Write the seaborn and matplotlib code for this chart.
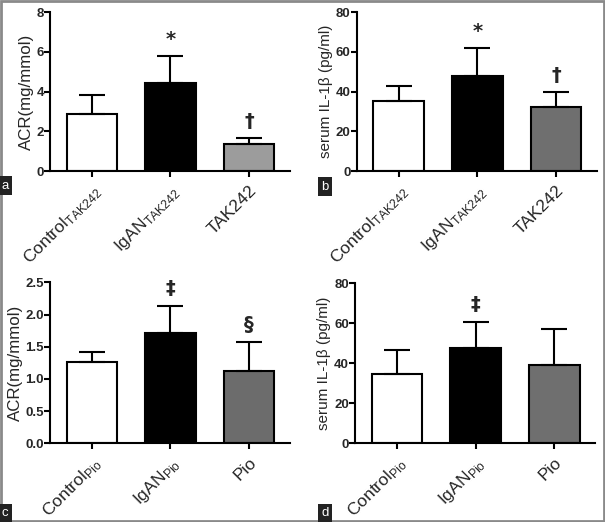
import pandas as pd
import matplotlib.pyplot as plt
import seaborn as sns
from matplotlib.patches import Rectangle

# values
grupos_tak = ['Control$_{\\mathregular{TAK242}}$', 'IgAN$_{\\mathregular{TAK242}}$', 'TAK242']
grupos_pio = ['Control$_{\\mathregular{Pio}}$', 'IgAN$_{\\mathregular{Pio}}$', 'Pio']

acr_tak = [2.9, 4.45, 1.35]
acr_tak_sd = [0.95, 1.35, 0.3]
il1b_tak = [35.5, 48.0, 32.5]
il1b_tak_sd = [7.5, 13.8, 7.5]

acr_pio = [1.27, 1.72, 1.13]
acr_pio_sd = [0.15, 0.41, 0.44]
il1b_pio = [34.5, 47.5, 39.0]
il1b_pio_sd = [12.0, 13.0, 18.0]

marcas_acr_tak = ['', '*', '†']
marcas_il1b_tak = ['', '*', '†']
marcas_acr_pio = ['', '‡', '§']
marcas_il1b_pio = ['', '‡', '']

sns.set_style('ticks')
plt.rcParams['font.family'] = ['Liberation Sans', 'DejaVu Sans']
plt.rcParams['mathtext.fontset'] = 'custom'
plt.rcParams['mathtext.rm'] = 'Liberation Sans'
plt.rcParams['mathtext.it'] = 'Liberation Sans'

fig = plt.figure(figsize=(6.05, 5.22), dpi=100)

paineis = [
    # rect, grupos, valores, sd, marcas, ylabel, tamanho ylabel, ylim, yticks, fmt, cor cinza, offset marca
    ([0.083, 0.672, 0.396, 0.305], grupos_tak, acr_tak, acr_tak_sd, marcas_acr_tak,
     'ACR(mg/mmol)', 12.2, 8, [0, 2, 4, 6, 8], '{:.0f}', '#9c9c9c', 0.35),
    ([0.590, 0.672, 0.397, 0.305], grupos_tak, il1b_tak, il1b_tak_sd, marcas_il1b_tak,
     'serum IL-1β (pg/ml)', 11, 80, [0, 20, 40, 60, 80], '{:.0f}', '#6f6f6f', 3.5),
    ([0.083, 0.151, 0.396, 0.308], grupos_pio, acr_pio, acr_pio_sd, marcas_acr_pio,
     'ACR(mg/mmol)', 12.2, 2.5, [0, 0.5, 1.0, 1.5, 2.0, 2.5], '{:.1f}', '#6c6c6c', 0.12),
    ([0.587, 0.151, 0.397, 0.306], grupos_pio, il1b_pio, il1b_pio_sd, marcas_il1b_pio,
     'serum IL-1β (pg/ml)', 11, 80, [0, 20, 40, 60, 80], '{:.0f}', '#6f6f6f', 4.0),
]

for rect, grupos, valores, sd, marcas, ylabel, ysize, ymax, yticks, fmt, cinza, off in paineis:
    ax = fig.add_axes(rect)
    df = pd.DataFrame({'Grupo': grupos, 'Valor': valores})
    sns.barplot(data=df, x='Grupo', y='Valor', hue='Grupo', order=grupos,
                palette=['white', 'black', cinza], legend=False, errorbar=None,
                width=0.64, edgecolor='black', linewidth=1.5, ax=ax)
    ax.errorbar(range(3), valores, yerr=[[0, 0, 0], sd], fmt='none', ecolor='black',
                elinewidth=1.5, capsize=9.5, capthick=1.5)
    for i, m in enumerate(marcas):
        if m:
            ax.text(i, valores[i] + sd[i] + off, m, ha='center', va='bottom',
                    fontsize=14, fontweight='bold', family=['DejaVu Sans'])
    ax.set_xlim(-0.53, 2.52)
    ax.set_ylim(0, ymax)
    ax.set_yticks(yticks)
    ax.set_yticklabels([fmt.format(t) for t in yticks], fontsize=9.5, fontweight='bold')
    ax.set_xticks(range(3))
    ax.set_xticklabels(grupos, rotation=45, ha='right', rotation_mode='anchor', fontsize=12.6)
    ax.set_xlabel('')
    ax.set_ylabel(ylabel, fontsize=ysize, labelpad=2)
    ax.tick_params(axis='both', width=1.5, length=4, direction='out', color='black')
    ax.tick_params(axis='y', pad=0.5)
    ax.tick_params(axis='x', pad=4)
    for s in ['left', 'bottom']:
        ax.spines[s].set_linewidth(1.5)
        ax.spines[s].set_color('black')
    sns.despine(ax=ax)

# rotulos dos paineis
for x, y, letra in [(0.003, 0.633, 'a'), (0.531, 0.631, 'b'), (0.003, 0.005, 'c'), (0.531, 0.005, 'd')]:
    fig.text(x, y, letra, color='white', fontsize=9.5, ha='left', va='bottom',
             bbox=dict(boxstyle='square,pad=0.25', facecolor='#222222', edgecolor='none'))

# moldura
fig.add_artist(Rectangle((0.001, 0.001), 0.997, 0.997, transform=fig.transFigure,
                         fill=False, edgecolor='#8a8a8a', linewidth=2))

plt.savefig('out.png', dpi=100)
